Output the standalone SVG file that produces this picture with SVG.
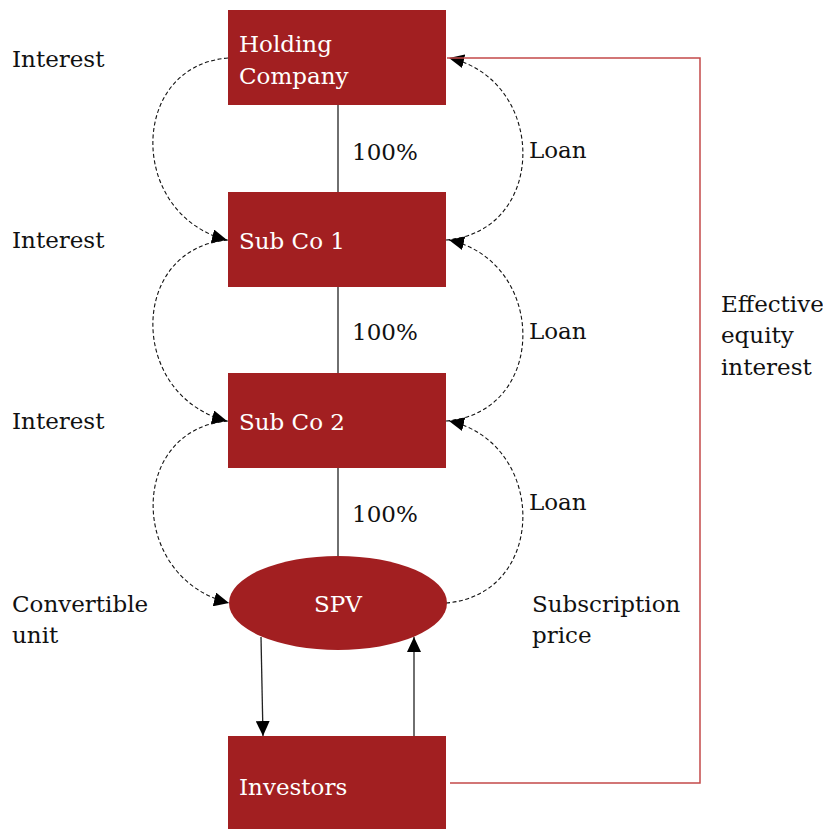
<svg xmlns="http://www.w3.org/2000/svg" width="823" height="829" viewBox="0 0 823 829">
  <style>
    .box { fill: #a21f21; }
    .lbl { font-family: "DejaVu Serif", "Liberation Serif", serif; font-size: 23px; fill: #111; }
    .in { font-family: "DejaVu Serif", "Liberation Serif", serif; font-size: 23px; fill: #ffffff; }
    .solid { fill: none; stroke: #222; stroke-width: 1.3; }
    .dash { fill: none; stroke: #111; stroke-width: 1.1; stroke-dasharray: 4 2.5; }
    .eq { fill: none; stroke: #c44a4a; stroke-width: 1.5; }
  </style>
  <defs>
    <marker id="arrow" markerUnits="userSpaceOnUse" markerWidth="16" markerHeight="14" refX="15" refY="7" orient="auto">
      <path d="M0,0 L15,7 L0,14 z" fill="#000"/>
    </marker>
  </defs>
  <rect width="823" height="829" fill="#ffffff"/>

  <g id="connectors">
    <!-- ownership lines -->
    <line class="solid" x1="338" y1="105" x2="338" y2="192"/>
    <line class="solid" x1="338" y1="287" x2="338" y2="373"/>
    <line class="solid" x1="338" y1="468" x2="338" y2="556"/>
    <!-- interest flows (left side) -->
    <path class="dash" d="M228,58 C128,66 128,215 227,240" marker-end="url(#arrow)"/>
    <path class="dash" d="M228,240 C128,248 128,396 227,421" marker-end="url(#arrow)"/>
    <path class="dash" d="M228,421 C128,429 128,578 229,603" marker-end="url(#arrow)"/>
    <!-- loan flows (right side) -->
    <path class="dash" d="M446,240 C548,232 548,80 449,58" marker-end="url(#arrow)"/>
    <path class="dash" d="M446,421 C548,413 548,262 449,240" marker-end="url(#arrow)"/>
    <path class="dash" d="M446,603 C548,595 548,443 449,421" marker-end="url(#arrow)"/>
    <!-- SPV / investors -->
    <line class="solid" x1="261" y1="637" x2="263" y2="736" marker-end="url(#arrow)"/>
    <line class="solid" x1="414" y1="736" x2="414" y2="637" marker-end="url(#arrow)"/>
    <!-- effective equity interest -->
    <polyline class="eq" points="450,783 700,783 700,58 447,58"/>
  </g>

  <g id="holding">
    <rect class="box" x="228" y="10" width="218" height="95"/>
    <text class="in" x="239" y="52">Holding</text>
    <text class="in" x="239" y="84">Company</text>
  </g>
  <g id="subco1">
    <rect class="box" x="228" y="192" width="218" height="95"/>
    <text class="in" x="239" y="249">Sub Co 1</text>
  </g>
  <g id="subco2">
    <rect class="box" x="228" y="373" width="218" height="95"/>
    <text class="in" x="239" y="430">Sub Co 2</text>
  </g>
  <g id="spv">
    <ellipse class="box" cx="338" cy="603" rx="109" ry="47"/>
    <text class="in" x="338" y="612" text-anchor="middle">SPV</text>
  </g>
  <g id="investors">
    <rect class="box" x="228" y="736" width="218" height="93"/>
    <text class="in" x="239" y="795">Investors</text>
  </g>

  <g id="labels">
    <text class="lbl" x="12" y="67">Interest</text>
    <text class="lbl" x="12" y="248">Interest</text>
    <text class="lbl" x="12" y="429">Interest</text>
    <text class="lbl" x="12" y="612">Convertible</text>
    <text class="lbl" x="12" y="643">unit</text>
    <text class="lbl" x="352" y="160">100%</text>
    <text class="lbl" x="352" y="340">100%</text>
    <text class="lbl" x="352" y="522">100%</text>
    <text class="lbl" x="529" y="158">Loan</text>
    <text class="lbl" x="529" y="339">Loan</text>
    <text class="lbl" x="529" y="510">Loan</text>
    <text class="lbl" x="532" y="612">Subscription</text>
    <text class="lbl" x="532" y="643">price</text>
    <text class="lbl" x="721" y="312">Effective</text>
    <text class="lbl" x="721" y="343">equity</text>
    <text class="lbl" x="721" y="375">interest</text>
  </g>
</svg>
